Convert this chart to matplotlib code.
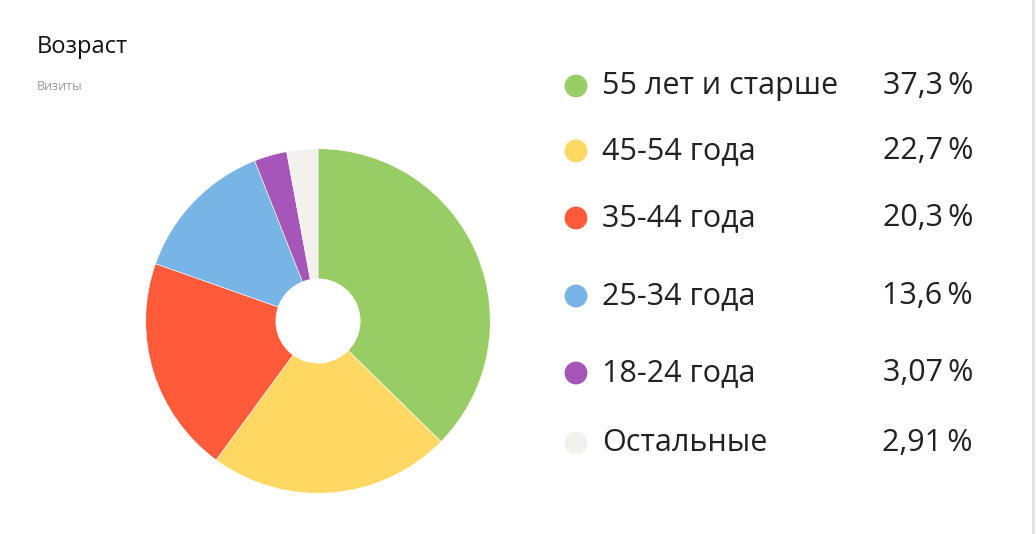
import matplotlib.pyplot as plt

# Age structure of visits
labels = ["55 лет и старше", "45-54 года", "35-44 года", "25-34 года", "18-24 года", "Остальные"]
shares = [37.3, 22.7, 20.3, 13.6, 3.07, 2.91]
share_text = ["37,3\u2009%", "22,7\u2009%", "20,3\u2009%", "13,6\u2009%", "3,07\u2009%", "2,91\u2009%"]
colors = ["#98cc64", "#ffd863", "#ff5a3a", "#78b5e6", "#a655b8", "#f2f1ee"]
row_y = [86, 151, 218, 296, 373, 443]  # legend rows, pixels from top

W, H = 1036, 534
plt.rcParams["font.family"] = ["Open Sans", "DejaVu Sans"]
fig = plt.figure(figsize=(W / 100, H / 100), dpi=100)

# donut
cx, cy, r = 318, 321, 174
ax = fig.add_axes([(cx - r) / W, (H - cy - r) / H, 2 * r / W, 2 * r / H])
ax.pie(
    shares,
    colors=colors,
    startangle=90,
    counterclock=False,
    radius=1,
    wedgeprops=dict(width=0.755, edgecolor="white", linewidth=0.4),
)
ax.set_xlim(-1.01, 1.01)
ax.set_ylim(-1.01, 1.01)
ax.set_aspect("equal")
ax.axis("off")

# overlay in pixel coordinates for texts and legend
ov = fig.add_axes([0, 0, 1, 1])
ov.set_xlim(0, W)
ov.set_ylim(H, 0)
ov.axis("off")

ov.text(37, 47, "Возраст", fontsize=17, color="#111111", va="center", ha="left",
        fontweight="medium")
ov.text(37, 87, "Визиты", fontsize=9, color="#999999", va="center", ha="left")

for lab, val, c, y in zip(labels, share_text, colors, row_y):
    ov.scatter([576], [y], s=270, color=c, edgecolors="none")
    ov.text(602, y, lab, fontsize=22, color="#222222", va="center", ha="left")
    ov.text(973, y, val, fontsize=22, color="#222222", va="center", ha="right")

# right border of the card
ov.plot([1033, 1033], [0, H], color="#e2e2e2", linewidth=2)

fig.savefig("out.png", dpi=100)
